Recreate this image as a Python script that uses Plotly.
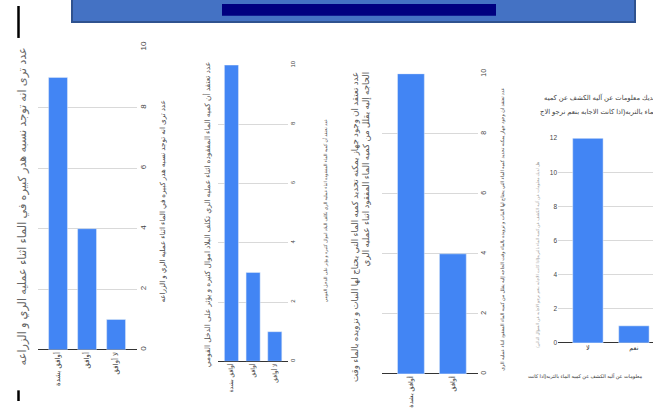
import plotly.graph_objects as go

W, H = 653, 408

# ---- data ----
cats1 = ["أوافق بشدة", "أوافق", "لا أوافق"]
vals1 = [9, 4, 1]
title1 = "عدد ترى انه توجد نسبه هدر كبيره في الماء اثناء عمليه الري و الزراعه"

cats2 = ["أوافق بشدة", "أوافق", "لا أوافق"]
vals2 = [10, 3, 1]
title2 = "عدد تعتقد أن كميه الماء المفقوده اثناء عمليه الري تكلف البلاد اموال كثيره و يؤثر على الدخل القومي"

cats3 = ["أوافق بشدة", "أوافق"]
vals3 = [10, 4]
title3_l1 = "عدد تعتقد ان وجود جهاز يمكنه تحديد كميه الماء التي يحتاج لها النبات و تزويده بالماء وقت"
title3_l2 = "الحاجه إليه يقلل من كميه الماء المفقود اثناء عمليه الري"

cats4 = ["لا", "نعم"]
vals4 = [12, 1]
title4_l1 = "هل لديك معلومات عن آليه الكشف عن كميه"
title4_l2 = "الماء بالتربه(اذا كانت الاجابه بنعم نرجو الاج"
xtitle4 = "معلومات عن آليه الكشف عن كميه الماء بالتربه(اذا كانت"
ytitle4 = "هل لديك معلومات عن آليه الكشف عن كميه الماء بالتربه(اذا كانت الاجابه بنعم نرجو الاجابه عن السؤال التالي)"

ticks10 = [0, 2, 4, 6, 8, 10]
ticks12 = [0, 2, 4, 6, 8, 10, 12]

BLUE = "#4285F4"
FONT = "Arial, DejaVu Sans, sans-serif"


def px(x):
    return x / W


def py(y):
    return 1 - y / H


fig = go.Figure()
fig.add_trace(go.Bar(x=cats1, y=vals1, marker_color=BLUE, width=0.65, xaxis="x", yaxis="y"))
fig.add_trace(go.Bar(x=cats2, y=vals2, marker_color=BLUE, width=0.65, xaxis="x2", yaxis="y2"))
fig.add_trace(go.Bar(x=cats3, y=vals3, marker_color=BLUE, width=0.64, xaxis="x3", yaxis="y3"))
fig.add_trace(go.Bar(x=cats4, y=vals4, marker_color=BLUE, width=0.66, xaxis="x4", yaxis="y4"))


def xax(dom, rng, anchor, size, angle=-90):
    return dict(domain=[px(dom[0]), px(dom[1])], range=rng, anchor=anchor, type="category",
                showgrid=False, showline=False, ticks="", zeroline=False,
                tickangle=angle, tickfont=dict(size=size, color="#333", family=FONT))


def yax(dom, rng, anchor, side, tv, size, angle=-90):
    return dict(domain=[py(dom[1]), py(dom[0])], range=rng, anchor=anchor, side=side,
                tickvals=tv, showgrid=True, gridcolor="#d9d9d9", gridwidth=1,
                zeroline=True, zerolinecolor="#333", zerolinewidth=1, showline=False,
                ticks="", tickangle=angle, tickfont=dict(size=size, color="#444", family=FONT))


fig.update_layout(
    width=W, height=H, margin=dict(l=0, r=0, t=0, b=0),
    paper_bgcolor="white", plot_bgcolor="white", showlegend=False,
    font=dict(family=FONT),
    xaxis=xax((38, 137), [-0.69, 2.72], "y", 7),
    yaxis=yax((42.5, 355), [0, 10], "x", "right", ticks10, 8),
    xaxis2=xax((218, 288), [-0.62, 2.61], "y2", 6),
    yaxis2=yax((61, 367), [0, 10], "x2", "right", ticks10, 6),
    xaxis3=xax((382, 478), [-0.69, 1.60], "y3", 6.5),
    yaxis3=yax((70, 380), [0, 10], "x3", "right", ticks10, 7),
    xaxis4=xax((558, 653), [-0.65, 1.415], "y4", 6.5, angle=0),
    yaxis4=yax((136.5, 348), [0, 12], "x4", "left", ticks12, 6.5, angle=0),
)

ann = []


def note(text, x, y, size, color="#555", angle=-90, xa="center", ya="middle", align="center"):
    ann.append(dict(text=text, x=px(x), y=py(y), xref="paper", yref="paper", showarrow=False,
                    textangle=angle, xanchor=xa, yanchor=ya, align=align,
                    font=dict(size=size, color=color, family=FONT)))


note(title1, 23, 207, 11.3, color="#666")
note(title1, 163, 202, 7.2, color="#444")
note(title2, 207, 215, 7.5)
note(title2, 325, 211, 4.5, color="#444")
note(title3_l1 + "<br>" + title3_l2, 361, 66, 8.6, ya="top", align="right")
note(title3_l1 + " " + title3_l2, 503, 231, 4.8, color="#444")
note(ytitle4, 538, 257, 4.2, color="#999")
note(title4_l1, 542, 95, 6.8, color="#444", angle=0, xa="left")
note(title4_l2, 538, 110, 6.8, color="#444", angle=0, xa="left")
note(xtitle4, 585, 383, 5, color="#333", angle=0)
fig.update_layout(annotations=ann)

shapes = [
    dict(type="rect", xref="paper", yref="paper", x0=px(72), x1=px(635), y0=py(16.5), y1=py(-20),
         fillcolor="#4472C4", line=dict(color="#2F528F", width=2), layer="above"),
    dict(type="rect", xref="paper", yref="paper", x0=px(222), x1=px(496), y0=py(10), y1=py(-2),
         fillcolor="#000080", line=dict(width=0), layer="above"),
    dict(type="line", xref="paper", yref="paper", x0=px(18.5), x1=px(18.5), y0=py(0), y1=py(33),
         line=dict(color="black", width=2.5)),
    dict(type="line", xref="paper", yref="paper", x0=px(18.5), x1=px(18.5), y0=py(397), y1=py(408),
         line=dict(color="black", width=2.5)),
]
fig.update_layout(shapes=shapes)

fig.write_html("out.html")
